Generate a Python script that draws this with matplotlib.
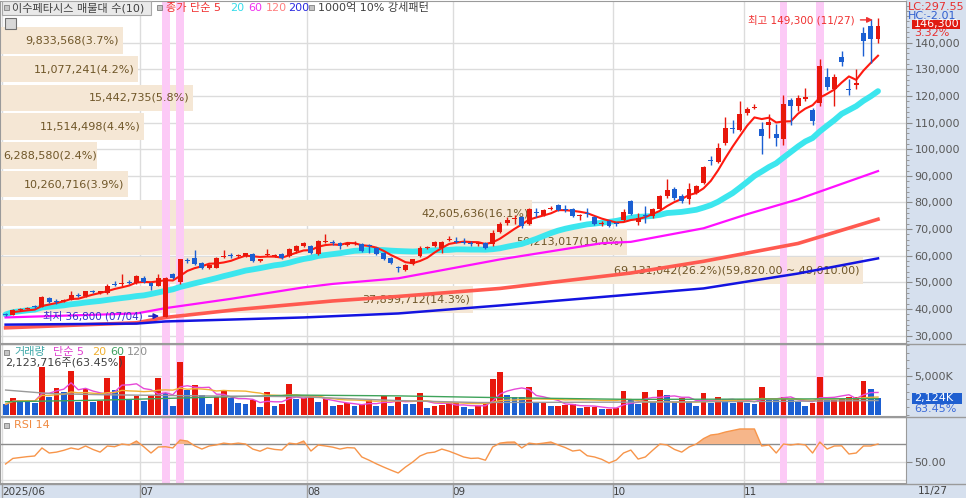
import matplotlib
matplotlib.use("Agg")
import matplotlib.pyplot as plt
from matplotlib.patches import Rectangle
from matplotlib.ticker import MultipleLocator
import numpy as np
import pandas as pd

plt.rcParams['font.family'] = ['DejaVu Sans', 'Noto Sans CJK KR']

W, H = 966, 498

# ---- data ----
month_labels = ['2025/06', '07', '08', '09', '10', '11']
month_start = [0, 19, 42, 62, 84, 102]
last_date = '11/27'

opens = [
    38100, 37900, 39600, 40100, 41100, 40900, 44100, 42900, 42900, 43500,
    45400, 44800, 46900, 45800, 45800, 49400, 49200, 50300, 49600, 51800,
    49600, 48800, 37000, 53000, 50300, 58200, 59000, 57100, 55400, 55500,
    59500, 60100, 59900, 60000, 60700, 58000, 60200, 60000, 60600, 59800,
    61600, 63500, 63500, 60500, 65200, 65000, 64700, 64200, 64500, 64300,
    63800, 62800, 60900, 59000, 55500, 54500, 56700, 59800, 62800, 63500,
    62800, 65800, 65600, 65200, 64800, 64300, 64700, 64300, 69000, 72300,
    73700, 74400, 72000, 76300, 75200, 77400, 79000, 77600, 77400, 75000,
    75800, 74400, 72000, 73000, 72000, 73300, 80500, 72800, 75000, 74800,
    77500, 82300, 85000, 82300, 81200, 83500, 87200, 96000, 95200, 102300,
    108000, 107200, 113600, 115500, 107600, 109100, 105700, 103800, 118500, 116200,
    119000, 114700, 117400, 127200, 122600, 134700, 122500, 124300, 143700, 146400,
    141500]
highs = [
    38500, 39900, 40200, 40900, 41400, 44900, 44600, 43600, 43900, 46600,
    45900, 46900, 47300, 46900, 49200, 50400, 53300, 50800, 52600, 52200,
    50100, 53300, 52000, 53500, 58900, 59000, 62000, 57800, 56900, 59400,
    62100, 60900, 60700, 61200, 61000, 58900, 62400, 60800, 61000, 62800,
    64000, 65300, 64000, 66000, 68000, 65800, 65200, 65000, 65600, 64800,
    64300, 63200, 61300, 59400, 56000, 56700, 58900, 63500, 63500, 65400,
    65400, 67500, 67000, 66600, 65400, 65000, 65000, 69500, 72500, 74500,
    75300, 74800, 78000, 77800, 77600, 78600, 79400, 79000, 77800, 75700,
    77800, 74800, 72900, 73300, 72800, 77500, 81000, 76000, 78600, 78000,
    82800, 89000, 86000, 83000, 87200, 86500, 93700, 97300, 102300, 112000,
    111000, 118000, 115700, 117000, 110300, 113100, 109500, 120500, 119100, 120300,
    123000, 115500, 133900, 130400, 128300, 137000, 126500, 130200, 145800, 148800,
    149300]
lows = [
    37500, 37700, 39200, 39800, 40500, 40700, 42400, 42000, 42600, 43200,
    44600, 44600, 46100, 45600, 45500, 48600, 48800, 49500, 49300, 49800,
    47300, 48500, 36800, 51400, 49500, 57200, 56400, 55000, 54900, 55200,
    59000, 59000, 59400, 59700, 57600, 57600, 59800, 59600, 58800, 59500,
    61200, 63200, 60600, 60200, 64800, 64000, 62600, 63800, 64200, 61300,
    61000, 60200, 58200, 56800, 53900, 54200, 56400, 59500, 62400, 63100,
    60900, 65400, 64600, 64300, 63700, 63800, 62500, 63800, 68500, 71500,
    71800, 70500, 71500, 74500, 74800, 77100, 76800, 76300, 74500, 73300,
    74400, 71500, 71300, 70700, 71200, 73000, 75200, 71600, 72200, 74300,
    77000, 81800, 80900, 79900, 79500, 83000, 86800, 94000, 94700, 101500,
    106000, 106800, 113000, 115000, 98200, 104200, 101300, 101700, 109000, 114300,
    118300, 109000, 116200, 122200, 116200, 131300, 120300, 122800, 135000, 132400,
    139800]
closes = [
    37900, 39700, 39800, 40500, 40800, 44600, 42600, 42700, 43500, 45400,
    45000, 46600, 46400, 46600, 48800, 49100, 49700, 49800, 52200, 50000,
    48500, 51500, 51800, 51600, 58600, 57900, 56700, 55300, 56500, 59000,
    59800, 59800, 60400, 61000, 57900, 58600, 60500, 60300, 59000, 62400,
    63500, 64700, 60900, 65400, 65500, 64700, 63700, 64700, 64900, 61600,
    63500, 60500, 58600, 57100, 55200, 56400, 58600, 62800, 63100, 65000,
    65000, 66200, 65300, 64900, 64300, 64700, 62800, 68400, 71800, 73400,
    74000, 71000, 77500, 76000, 77100, 78000, 77100, 77300, 74800, 75300,
    75500, 71800, 72300, 71000, 71800, 76300, 75600, 74100, 74800, 77500,
    82300, 84600, 81600, 80500, 85000, 86100, 93300, 95600, 100400, 108000,
    107600, 113200, 115100, 115900, 104900, 110200, 104200, 117000, 116200, 119200,
    119700, 110600, 131300, 123400, 127200, 132800, 122100, 124900, 140800, 141600,
    146300]

# volume, thousand shares
volume_k = [
    1370, 2140, 1920, 1900, 1580, 6200, 2350, 3420, 2990, 5680,
    1710, 3290, 1700, 1840, 4790, 3200, 7600, 1920, 2480, 1750,
    2440, 4800, 2800, 1150, 6800, 3200, 3850, 2560, 1370, 2350,
    3120, 2140, 1500, 1370, 1920, 1070, 2900, 1200, 1370, 3970,
    2050, 2200, 2300, 1700, 2000, 1200, 1280, 1580, 1150, 1410,
    1920, 1200, 2440, 1200, 2270, 1410, 1400, 2780, 860, 1200,
    1250, 1500, 1550, 980, 730, 1150, 1500, 4570, 5560, 2560,
    2350, 2300, 3630, 1650, 1720, 1150, 1200, 1330, 1380, 950,
    1000, 1050, 730, 820, 880, 3070, 2010, 1410, 2990, 1710,
    3200, 2610, 1710, 2140, 1710, 1150, 2780, 1500, 2270, 2010,
    1500, 2010, 1580, 1370, 3550, 1950, 1920, 2270, 1920, 1710,
    1150, 1500, 4830, 1920, 1950, 2010, 2270, 2350, 4360, 3347,
    2123.716]

rsi14 = [
    47.8, 54, 55, 56, 56.7, 65.6, 60, 61, 63, 65.6,
    64, 67.8, 64, 61, 67.8, 67, 70, 68.9, 73.3, 67,
    60, 66.7, 67, 65.6, 74.4, 73.3, 68, 64.4, 67.8, 69,
    71, 70, 71, 70, 64.4, 62, 65.6, 64, 63.3, 71,
    70, 73.3, 62.2, 68.9, 67.8, 66.5, 64.4, 66, 65.6, 55.6,
    52, 48, 44.4, 41, 37.8, 44.4, 50, 56.7, 60, 61,
    64.4, 62, 58.9, 55.6, 54, 54.4, 52, 66.7, 71, 72,
    72.2, 65.6, 71, 70, 71, 72.2, 68.9, 66, 62.2, 63.3,
    57, 55.6, 53, 48.9, 52.2, 60, 63.3, 53.3, 55.6, 63,
    70, 68.9, 64, 61, 66.7, 70, 76, 80, 81, 83.3,
    85, 86.7, 86.7, 86.7, 67.8, 68.9, 60, 70, 68.9, 70,
    69, 60, 72.2, 64.4, 67.8, 68, 58.9, 60, 67.8, 67.8,
    70]

# long moving averages, read at a few dates
ma60_idx = [0, 18, 22, 31, 41, 45, 54, 68, 82, 86, 96, 102, 109, 120]
ma60_val = [36800, 38300, 40300, 43800, 48100, 49400, 51500, 58600, 64700, 65200, 70300, 75600, 81200, 91800]
ma120_idx = [0, 18, 22, 32, 45, 54, 68, 86, 96, 109, 120]
ma120_val = [32900, 34800, 36800, 39800, 43000, 44700, 47700, 53500, 57900, 64600, 73700]
ma200_idx = [0, 18, 22, 41, 54, 68, 86, 96, 109, 120]
ma200_val = [34100, 34500, 35300, 36800, 38300, 41300, 45400, 47700, 53300, 59000]

vma60_idx = [0, 13, 27, 40, 54, 65, 70, 86, 107, 120]
vma60_val = [1700, 1900, 2250, 2550, 2450, 2270, 2200, 2000, 2050, 2100]
vma120_idx = [0, 6, 13, 27, 40, 54, 65, 86, 107, 120]
vma120_val = [3200, 2750, 2600, 2450, 2350, 1850, 1600, 1650, 1750, 1850]

# volume profile (매물대), bottom bin first
vp_low = 38200
vp_step = 10810
vp_volume = [37899712, 69131042, 50213017, 42605636, 10260716,
             6288580, 11514498, 15442735, 11077241, 9833568]
vp_pct = [14.3, 26.2, 19.0, 16.1, 3.9, 2.4, 4.4, 5.8, 4.2, 3.7]

strong_idx = [22, 24, 107, 112]   # 1000억 10% 강세패턴 days

# ---- colours ----
RED = '#e8170c'
BLUE = '#1b5fd2'
GRID = '#dcdcdc'
PANEL = '#d6e0ee'
BEIGE = '#f5e7d5'
PINK = '#fccaf6'
BROWN = '#6f5628'


def fx(px):
    return px / W


def fy(py):
    return 1 - py / H


def bullet(px, py):
    fig.add_artist(Rectangle((fx(px), fy(py + 2.5)), 5 / W, 5 / H, transform=fig.transFigure,
                             facecolor='#c4c4c4', edgecolor='#808080', lw=0.6, zorder=11))


fig = plt.figure(figsize=(W / 100, H / 100), dpi=100)
ax_p = fig.add_axes([0, fy(343), fx(906), 342 / H])
ax_v = fig.add_axes([0, fy(416), fx(906), 72 / H])
ax_r = fig.add_axes([0, fy(483), fx(906), 66 / H])

fig.add_artist(Rectangle((fx(906), 0), 1 - fx(906), 1, transform=fig.transFigure,
                         facecolor=PANEL, edgecolor='none', zorder=-10))
fig.add_artist(Rectangle((0, 0), 1, 15 / H, transform=fig.transFigure,
                         facecolor=PANEL, edgecolor='none', zorder=-10))

idx = np.arange(len(closes))
o = np.array(opens)
h = np.array(highs)
l = np.array(lows)
c = np.array(closes)
edges = [m - 0.5 for m in month_start]

for ax in (ax_p, ax_v, ax_r):
    ax.set_xlim(-0.77, 123.85)
    ax.set_xticks(edges)
    ax.grid(axis='both', color=GRID, lw=1)
    ax.set_axisbelow(True)
    ax.tick_params(axis='x', length=0, labelbottom=False)
    for sp in ax.spines.values():
        sp.set_color('#9a9a9a')
    ax.yaxis.tick_right()
    for s in strong_idx:
        ax.axvspan(s - 0.55, s + 0.55, color=PINK, lw=0, zorder=1.5)

# ---- price panel ----
ax_p.set_ylim(27200, 155700)
ticks = list(range(30000, 150000, 10000))
ax_p.set_yticks(ticks)
ax_p.set_yticklabels([f'{t:,}' for t in ticks])
ax_p.yaxis.set_minor_locator(MultipleLocator(2000))
ax_p.tick_params(axis='y', which='major', length=4, color='#8a8a8a', labelsize=8,
                 labelcolor='#5a5a5a', pad=2)
ax_p.tick_params(axis='y', which='minor', length=2, color='#8a8a8a')

vp_lo = vp_low + np.arange(len(vp_volume)) * vp_step
vp_mid = vp_lo + vp_step / 2
vp_frac = np.array(vp_volume) / max(vp_volume) * 0.953
ytr = ax_p.get_yaxis_transform()
ax_p.barh(vp_mid, np.maximum(vp_frac, 0.107), height=vp_step * 0.92, left=0, color=BEIGE, lw=0,
          transform=ytr, zorder=1)
for lo, mid, fr, v, p in zip(vp_lo, vp_mid, vp_frac, vp_volume, vp_pct):
    lab = f'{v:,}({p:.1f}%)'
    if v == max(vp_volume):
        lab += f'({lo + vp_step:,.2f} ~ {lo:,.2f})'
    if fr < 0.1:
        ax_p.text(0.004, mid, lab, ha='left', va='center', fontsize=8, color=BROWN,
                  transform=ytr, zorder=2.5)
    else:
        ax_p.text(fr - 0.004, mid, lab, ha='right', va='center', fontsize=8, color=BROWN,
                  transform=ytr, zorder=2.5)

ma5 = pd.Series(c).rolling(5, min_periods=1).mean()
ma20 = pd.Series(c).rolling(20, min_periods=1).mean()
ax_p.plot(idx, ma20, color='#3ce6ee', lw=4.2, zorder=3, solid_capstyle='round')
ax_p.plot(ma60_idx, ma60_val, color='#ff10ff', lw=1.6, zorder=3)
ax_p.plot(ma120_idx, ma120_val, color='#ff5a50', lw=2.6, zorder=3)
ax_p.plot(ma200_idx, ma200_val, color='#1414e0', lw=1.8, zorder=3)
ax_p.plot(idx[1:], ma5[1:], color='#ff1a10', lw=1.5, zorder=4)

cols = np.where(c >= o, RED, BLUE)
ax_p.vlines(idx, l, h, colors=cols, lw=1, zorder=5)
body_bot = np.minimum(o, c)
body_h = np.maximum(np.abs(c - o), 380)
ax_p.bar(idx, body_h, bottom=body_bot, width=0.68, color=cols, lw=0, zorder=6)

# high / low markers
ih = int(np.argmax(h))
il = int(np.argmin(l))
ax_p.text(116.8, 148600, f'최고 {h[ih]:,} ({last_date})', ha='right', va='center',
          fontsize=7.5, color='#f03030', zorder=7)
ax_p.annotate('', xy=(ih - 0.35, 148600), xytext=(117.2, 148600), zorder=7,
              arrowprops=dict(arrowstyle='-|>', color='#f03030', lw=1, mutation_scale=8))
ax_p.text(18.9, 37300, f'최저 {l[il]:,} (07/04)', ha='right', va='center',
          fontsize=7.5, color='#3030c8', zorder=7)
ax_p.annotate('', xy=(il - 0.5, 37300), xytext=(19.3, 37300), zorder=7,
              arrowprops=dict(arrowstyle='-|>', color='#2020c0', lw=1, mutation_scale=8))

# ---- volume panel ----
vol = np.array(volume_k, dtype=float)
vcols = [BLUE] + [RED if vol[i] > vol[i - 1] else BLUE for i in range(1, len(vol))]
ax_v.set_ylim(-128, 9100)
ax_v.bar(idx, vol, width=0.8, color=vcols, lw=0, zorder=3)
ax_v.plot(idx, pd.Series(vol).rolling(5, min_periods=1).mean(), color='#e64ad8', lw=1, zorder=4)
ax_v.plot(idx, pd.Series(vol).rolling(20, min_periods=1).mean(), color='#f2b234', lw=1, zorder=4)
ax_v.plot(vma60_idx, vma60_val, color='#3fa35a', lw=1, zorder=4)
ax_v.plot(vma120_idx, vma120_val, color='#9a9a9a', lw=1, zorder=4)
ax_v.set_yticks([5000])
ax_v.set_yticklabels(['5,000K'])
ax_v.yaxis.set_minor_locator(MultipleLocator(1000))
ax_v.tick_params(axis='y', which='major', length=4, color='#8a8a8a', labelsize=8,
                 labelcolor='#5a5a5a', pad=2)
ax_v.tick_params(axis='y', which='minor', length=2, color='#8a8a8a')

# ---- RSI panel ----
rsi = np.array(rsi14)
ax_r.set_ylim(26.7, 100)
ax_r.grid(axis='y', visible=False)
ax_r.axhline(70, color='#8c8c8c', lw=1, zorder=1)
ax_r.axhline(50, color=GRID, lw=1, zorder=1)
ax_r.axhline(30, color=GRID, lw=1, zorder=1)
ax_r.fill_between(idx, rsi, 70, where=rsi >= 70, interpolate=True, color='#f6b68a',
                  lw=0, zorder=3)
ax_r.plot(idx, rsi, color='#f7954a', lw=1, zorder=4)
ax_r.set_yticks([50])
ax_r.set_yticklabels(['50.00'])
ax_r.tick_params(axis='y', length=4, color='#8a8a8a', labelsize=8, labelcolor='#5a5a5a', pad=2)
ax_r.tick_params(axis='x', labelbottom=True, labelsize=7.5, labelcolor='#404040', pad=3)
ax_r.set_xticklabels(month_labels)
for lab in ax_r.get_xticklabels():
    lab.set_horizontalalignment('left')
ax_r.vlines(edges, -0.227, 0, transform=ax_r.get_xaxis_transform(), colors='#a0a0a0',
            lw=1, clip_on=False)

# panel separators
for yy in (343.5, 416.5, 483.5):
    fig.add_artist(plt.Line2D([0, 1], [fy(yy), fy(yy)], transform=fig.transFigure,
                              color='#9a9a9a', lw=1, zorder=8))

# ---- header legends ----
fig.add_artist(Rectangle((fx(2), fy(15)), 149 / W, 14 / H, transform=fig.transFigure,
                         facecolor='#e9e9e9', edgecolor='#a8a8a8', lw=0.8, zorder=9))
bullet(4, 8)
fig.text(fx(12), fy(8), '이수페타시스 매물대 수(10)', fontsize=8, color='#404040',
         va='center', zorder=12)
bullet(157, 8)
for px, txt, col in [(166, '종가 단순 5', '#f03030'), (230, '20', '#35dcea'),
                     (248, '60', '#f030f0'), (266, '120', '#ff8080'), (288, '200', '#2a2ae0')]:
    fig.text(fx(px), fy(8), txt, fontsize=8, color=col, va='center', zorder=12)
bullet(309, 8)
fig.text(fx(318), fy(8), '1000억 10% 강세패턴', fontsize=8, color='#404040', va='center', zorder=12)

fig.add_artist(Rectangle((fx(5), fy(29)), 11 / W, 11 / H, transform=fig.transFigure,
                         facecolor='#d8d8d8', edgecolor='#707070', lw=0.8, zorder=9))

bullet(4, 352)
for px, txt, col in [(14, '거래량', '#3ea8a8'), (53, '단순 5', '#e040d0'), (92, '20', '#f0b030'),
                     (110, '60', '#40a060'), (127, '120', '#909090')]:
    fig.text(fx(px), fy(352), txt, fontsize=8, color=col, va='center', zorder=12)
fig.text(fx(5), fy(363), f'{volume_k[-1] * 1000:,.0f}주({volume_k[-1] / volume_k[-2] * 100:.2f}%)',
         fontsize=8, color='#404040', va='center', zorder=12)

bullet(4, 425)
fig.text(fx(14), fy(425), 'RSI 14', fontsize=8, color='#f08a40', va='center', zorder=12)

# ---- right panel labels ----
fig.text(fx(908), fy(7.5), 'LC:297.55', fontsize=8, color='#e83030', va='center', zorder=12)
fig.text(fx(908), fy(16), 'HC:-2.01', fontsize=8, color='#3060d0', va='center', zorder=12)
fig.add_artist(Rectangle((fx(912), fy(29)), 48 / W, 9 / H, transform=fig.transFigure,
                         facecolor='#e01a10', edgecolor='none', zorder=11))
fig.text(fx(914), fy(24.5), f'{closes[-1]:,}', fontsize=8, color='white', va='center', zorder=12)
chg = (closes[-1] / closes[-2] - 1) * 100
fig.text(fx(914), fy(33.5), f'{chg:.2f}%', fontsize=8, color='#e83030', va='center', zorder=12)

fig.add_artist(Rectangle((fx(912), fy(404)), 50 / W, 11 / H, transform=fig.transFigure,
                         facecolor='#1f5fd0', edgecolor='none', zorder=11))
fig.text(fx(914), fy(398.5), f'{volume_k[-1]:,.0f}K', fontsize=8, color='white', va='center', zorder=12)
fig.text(fx(914), fy(409), f'{volume_k[-1] / volume_k[-2] * 100:.2f}%', fontsize=8,
         color='#3a6ad8', va='center', zorder=12)

fig.text(fx(918), fy(491), last_date, fontsize=7.5, color='#404040', va='center', zorder=12)

fig.savefig('out.png', dpi=100)
